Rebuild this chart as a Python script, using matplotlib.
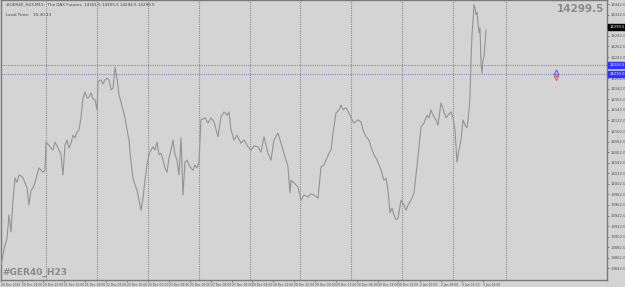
import matplotlib
matplotlib.use('Agg')
from matplotlib import pyplot as plt

# close prices, GER40 H23 M15 (bar position on chart, price)
bars = [0, 2, 4, 6, 8, 10, 12, 14, 16, 18, 20, 22, 24, 26, 28, 30, 32, 34, 36, 38,
        40, 42, 44, 45, 48, 50, 52, 54, 56, 58, 60, 62, 64, 66, 68, 70, 72, 74, 76, 78,
        80, 82, 84, 86, 88, 90, 92, 94, 96, 97, 100, 102, 104, 106, 108, 110, 112, 114, 116, 118,
        120, 122, 124, 126, 128, 130, 132, 134, 136, 138, 140, 142, 144, 146, 148, 150, 152, 154, 156, 158,
        160, 162, 164, 166, 168, 170, 172, 174, 176, 178, 180, 182, 184, 186, 188, 190, 192, 194, 196, 198,
        200, 204, 207, 210, 213, 217, 220, 223, 226, 228, 230, 233, 236, 240, 243, 247, 250, 253, 257, 260,
        263, 267, 270, 273, 277, 280, 283, 287, 289, 290, 293, 297, 300, 303, 307, 310, 313, 317, 320, 323,
        325, 328, 330, 332, 335, 338, 340, 342, 345, 348, 350, 353, 357, 360, 362, 365, 368, 370, 373, 376,
        378, 380, 383, 385, 387, 389, 391, 393, 395, 397, 400, 403, 405, 407, 410, 413, 415, 417, 420, 423,
        426, 428, 430, 432, 435, 437, 440, 443, 445, 447, 450, 452, 454, 456, 458, 460, 462, 464, 466, 468,
        469, 470, 471, 472, 473, 474, 475, 476, 477, 478, 479, 480, 481, 482, 483, 484, 485]
close = [13848, 13867, 13886, 13899, 13943, 13911, 13971, 14013, 14005, 14019,
         14017, 14013, 14004, 13994, 13962, 13990, 13994, 14005, 14019, 14032,
         14028, 14024, 14028, 14081, 14075, 14070, 14066, 14081, 14074, 14066,
         14057, 14019, 14075, 14085, 14070, 14079, 14094, 14089, 14100, 14104,
         14127, 14164, 14176, 14164, 14166, 14174, 14163, 14161, 14142, 14195,
         14199, 14191, 14199, 14202, 14199, 14180, 14183, 14223, 14202, 14170,
         14157, 14142, 14127, 14104, 14085, 14043, 14013, 14000, 13990, 13971,
         13952, 13975, 14009, 14038, 14057, 14066, 14072, 14066, 14081, 14057,
         14060, 14047, 14032, 14024, 14051, 14066, 14085, 14057, 14047, 14019,
         14089, 13981, 14043, 14047, 14038, 14032, 14028, 14038, 14032, 14043,
         14123, 14127, 14117, 14127, 14119, 14091, 14129, 14138, 14132, 14138,
         14104, 14085, 14094, 14079, 14085, 14072, 14066, 14074, 14072, 14062,
         14091, 14060, 14047, 14085, 14098, 14079, 14060, 14034, 13985, 14009,
         14004, 13996, 13971, 13981, 13977, 13983, 13981, 13975, 14034, 14038,
         14047, 14060, 14066, 14098, 14136, 14142, 14151, 14142, 14146, 14136,
         14127, 14117, 14123, 14119, 14104, 14091, 14085, 14072, 14057, 14047,
         14038, 14028, 14009, 14013, 13990, 13947, 13956, 13943, 13934, 13937,
         13971, 13962, 13952, 13962, 13971, 13985, 14019, 14053, 14110, 14117,
         14132, 14127, 14142, 14132, 14123, 14113, 14155, 14138, 14127, 14132,
         14138, 14127, 14104, 14043, 14066, 14085, 14123, 14113, 14108, 14142,
         14166, 14236, 14284, 14312, 14341, 14335, 14322, 14327, 14306, 14288,
         14297, 14231, 14212, 14236, 14242, 14269, 14293]

bid = 14299.5
hlines = [14226.5, 14210.0]
arrow_bar = 555
arrow_up = 14213
arrow_down = 14203

separators = [45, 96, 147, 198, 249, 299, 350, 401, 452, 505]
price_ticks = [14342 - 20 * k for k in range(26)]
date_pos = [0, 21, 42, 63, 84, 105, 126, 147, 168, 189, 210, 231,
            251, 272, 293, 314, 335, 356, 377, 397, 419, 440, 461, 482]
date_labels = ['20 Dec 2022', '20 Dec 14:00', '20 Dec 22:00', '21 Dec 10:00',
               '21 Dec 18:00', '22 Dec 07:00', '22 Dec 15:00', '23 Dec 00:00',
               '23 Dec 08:00', '23 Dec 16:00', '27 Dec 08:00', '27 Dec 16:00',
               '28 Dec 04:00', '28 Dec 12:00', '28 Dec 20:00', '29 Dec 09:00',
               '29 Dec 17:00', '30 Dec 06:00', '30 Dec 13:00', '30 Dec 21:00',
               '2 Jan 10:00', '2 Jan 18:00', '3 Jan 06:00', '3 Jan 14:00']

bg = '#d4d4d4'
fig = plt.figure(figsize=(6.25, 2.87), dpi=100, facecolor=bg)
ax = fig.add_axes([1 / 625, 7 / 287, 606 / 625, 280 / 287], facecolor=bg)

for s in separators:
    ax.axvline(s, color='#8c8c8c', lw=0.8, ls=(0, (1, 1)), zorder=1)

ax.axhline(hlines[0], color='#8080ff', lw=0.8, ls=(0, (1, 1)), zorder=2)
ax.axhline(hlines[1], color='#8c8cbc', lw=0.8, ls=(0, (1, 1)), zorder=2)

ax.plot(bars, close, color='#939393', lw=0.8, zorder=3)

ax.plot([arrow_bar], [arrow_up], marker='^', ms=3.5, mfc='none', mec='#5050ff',
        mew=0.7, zorder=4)
ax.plot([arrow_bar], [arrow_down], marker='v', ms=3, mfc='none', mec='#e05050',
        mew=0.7, zorder=4)

ax.set_xlim(0, 606)
ax.set_ylim(13820, 14350)

ax.yaxis.tick_right()
ax.set_yticks(price_ticks)
ax.set_yticklabels([f'{p:.1f}' for p in price_ticks])
ax.tick_params(axis='y', length=1.5, width=0.6, color='#707070', pad=0.8,
               labelsize=2.7, labelcolor='#505050')
ax.set_xticks(date_pos)
ax.set_xticklabels(date_labels, ha='left')
ax.tick_params(axis='x', length=1.5, width=0.6, color='#707070', pad=0.5,
               labelsize=2.2, labelcolor='#505050')
for sp in ax.spines.values():
    sp.set_color('#7a7a7a')
    sp.set_linewidth(1.0)

# price boxes on the right scale
box_kw = dict(transform=ax.get_yaxis_transform(), fontsize=2.7, color='white',
              va='center', ha='left', clip_on=False, zorder=5)
ax.text(1.004, bid, f'{bid:.1f}',
        bbox=dict(boxstyle='square,pad=0.3', fc='black', ec='black'), **box_kw)
ax.text(1.004, hlines[0], f'{hlines[0]:.1f}',
        bbox=dict(boxstyle='square,pad=0.3', fc='#3030ff', ec='#3030ff'), **box_kw)
ax.text(1.004, hlines[1], f'{hlines[1]:.1f}',
        bbox=dict(boxstyle='square,pad=0.3', fc='#3030ff', ec='#3030ff'), **box_kw)

ax.text(0.008, 0.992, '#GER40_H23,M15:  The DAX Futures  14301.5 14305.5 14294.5 14299.5',
        transform=ax.transAxes, fontsize=3.0, color='#404040', va='top', ha='left')
ax.text(0.008, 0.955, 'Local Time:   10:30:13', transform=ax.transAxes,
        fontsize=3.0, color='#404040', va='top', ha='left')
ax.text(0.995, 0.985, f'{bid:.1f}', transform=ax.transAxes, fontsize=7.5,
        color='#8a8a8a', va='top', ha='right', fontweight='bold')
ax.text(0.002, 0.01, '#GER40_H23', transform=ax.transAxes, fontsize=6.5,
        color='#8a8a8a', va='bottom', ha='left', fontweight='bold')

fig.savefig('out.png', dpi=100, facecolor=bg)
